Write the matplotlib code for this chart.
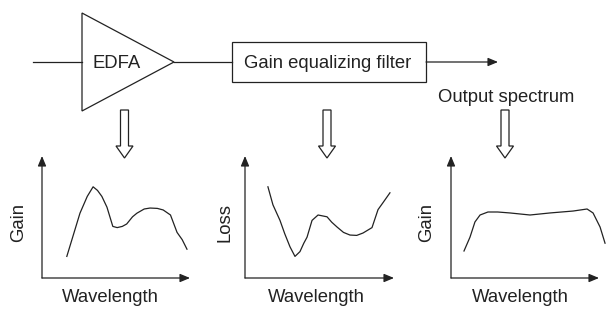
import matplotlib.pyplot as plt
from matplotlib.patches import Polygon, Rectangle, FancyArrow, FancyArrowPatch

plt.rcParams['font.family'] = ['Liberation Sans', 'DejaVu Sans']

INK = '#222222'

# spectra, wavelength and level on a 0-100 scale of each small plot
edfa_wl = [17, 22, 26, 31, 35, 38, 41, 44.5, 48.5, 51.5, 55, 58, 62, 65, 70, 74, 79, 83, 88, 92.5, 96, 99.3]
edfa_gain = [18, 38, 54, 68, 76, 73, 68, 59, 43, 42, 43, 45, 51, 54, 57.5, 58.3, 58, 56.7, 52.5, 38, 32, 24]

filt_wl = [15.6, 19, 23.8, 27, 30.6, 34, 37.4, 40, 42.2, 45.6, 49.7, 55.8, 59, 62.6, 67, 71.4, 76, 80.3, 86.4, 90.5, 94, 98.6]
filt_loss = [76, 61, 48, 37, 26, 18, 22, 29, 34, 48, 52.5, 51, 46.5, 42.5, 38, 35.8, 35.5, 37.5, 42, 57, 63, 71]

out_wl = [8.9, 13, 16.4, 19.9, 25.3, 32, 40.4, 54.1, 67.8, 83.6, 93.2, 97.3, 102.1, 105.5]
out_gain = [22.5, 34, 46.7, 52.5, 55, 55, 54.2, 52.5, 54.2, 55.8, 57.5, 54.2, 42.5, 29]

# label, wavelengths, levels, axis x start/end, y-label x, hollow arrow x, x-label centre
panels = [
    ('Gain', edfa_wl, edfa_gain, 42, 188, 19, 124.5, 110),
    ('Loss', filt_wl, filt_loss, 245, 392, 225, 327, 316),
    ('Gain', out_wl, out_gain, 451, 597, 427, 505, 520),
]

fig = plt.figure(figsize=(6.07, 3.09), dpi=100)
ax = fig.add_axes([0, 0, 1, 1])
ax.set_xlim(0, 607)
ax.set_ylim(309, 0)
ax.axis('off')

lw = 0.9
fs = 13.3
head = '-|>,head_length=0.6,head_width=0.25'

# block diagram
ax.plot([33, 82], [62, 62], color=INK, lw=lw)
ax.add_patch(Polygon([[82, 13], [174, 62], [82, 111]], closed=True,
                     fill=False, ec=INK, lw=lw))
ax.text(117, 63, 'EDFA', ha='center', va='center', fontsize=fs, color=INK)
ax.plot([174, 232], [62, 62], color=INK, lw=lw)
ax.add_patch(Rectangle((232, 42), 194, 40, fill=False, ec=INK, lw=lw))
ax.text(328, 63, 'Gain equalizing filter', ha='center', va='center', fontsize=fs, color=INK)
ax.add_patch(FancyArrowPatch((426, 62), (498, 62), arrowstyle=head,
                             mutation_scale=10, color=INK, lw=lw, shrinkA=0, shrinkB=0))
ax.text(506, 97, 'Output spectrum', ha='center', va='center', fontsize=fs, color=INK)

for label, wl, lvl, x0, x1, lx, arr_x, wx in panels:
    # hollow arrow pointing down
    ax.add_patch(FancyArrow(arr_x, 110, 0, 48, width=8, head_width=17, head_length=12,
                            length_includes_head=True, fc='white', ec=INK, lw=lw))
    # axes with arrowheads
    for start, end in [((x0, 278), (x0, 156)), ((x0, 278), (x1 + 2, 278))]:
        ax.add_patch(FancyArrowPatch(start, end, arrowstyle=head,
                                     mutation_scale=10, color=INK, lw=lw, shrinkA=0, shrinkB=0))
    ax.text(lx, 222, label, ha='center', va='center', rotation=90, fontsize=fs, color=INK)
    ax.text(wx, 298, 'Wavelength', ha='center', va='center', fontsize=fs, color=INK)

    # spectrum curve
    sub = fig.add_axes([x0 / 607, (309 - 278) / 309, (x1 - x0) / 607, 120 / 309])
    sub.set_xlim(0, 100)
    sub.set_ylim(0, 100)
    sub.axis('off')
    sub.plot(wl, lvl, color=INK, lw=lw, clip_on=False)

fig.savefig('out.png', dpi=100)
